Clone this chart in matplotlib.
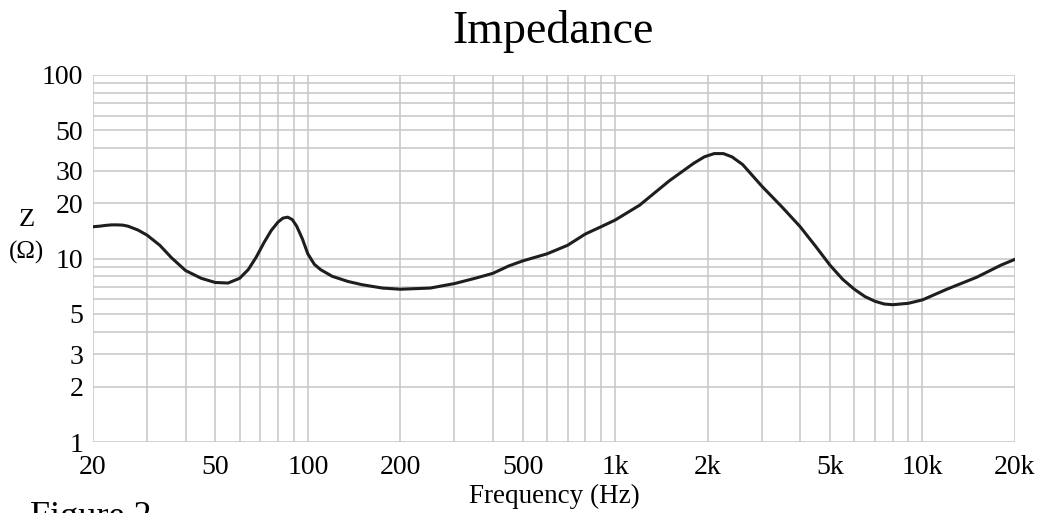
import numpy as np
import matplotlib.pyplot as plt
from matplotlib.ticker import FixedLocator, NullFormatter

plt.rcParams["font.family"] = ["Liberation Serif", "DejaVu Serif"]

# impedance curve
freq = [20, 21, 22, 23, 24, 25, 26, 28, 30, 33, 36, 40, 45, 50, 55, 60, 64,
        68, 72, 76, 80, 83, 86, 89, 92, 96, 100, 105, 110, 120, 135, 150,
        175, 200, 250, 300, 350, 400, 450, 500, 600, 700, 800, 900, 1000,
        1200, 1500, 1800, 1950, 2100, 2250, 2400, 2600, 3000, 3500, 4000,
        4500, 5000, 5500, 6000, 6500, 7000, 7500, 8000, 9000, 10000, 12000,
        15000, 18000, 20000]
z = [14.9, 15.0, 15.15, 15.25, 15.25, 15.2, 15.0, 14.3, 13.4, 11.8, 10.1,
     8.6, 7.8, 7.4, 7.35, 7.8, 8.7, 10.2, 12.2, 14.2, 15.8, 16.6, 16.8,
     16.3, 15.0, 12.8, 10.6, 9.3, 8.7, 8.0, 7.5, 7.2, 6.9, 6.8, 6.9, 7.3,
     7.8, 8.3, 9.1, 9.7, 10.6, 11.8, 13.6, 14.9, 16.2, 19.5, 26.5, 33.0,
     35.8, 37.3, 37.3, 35.8, 32.5, 24.8, 19.0, 14.9, 11.6, 9.2, 7.7, 6.8,
     6.2, 5.85, 5.65, 5.6, 5.7, 5.95, 6.8, 7.9, 9.2, 9.9]

x_ticks = [20, 50, 100, 200, 500, 1000, 2000, 5000, 10000, 20000]
x_labels = ["20", "50", "100", "200", "500", "1k", "2k", "5k", "10k", "20k"]
y_ticks = [1, 2, 3, 5, 10, 20, 30, 50, 100]
y_labels = ["1", "2", "3", "5", "10", "20", "30", "50", "100"]

fig = plt.figure(figsize=(10.4, 5.13), dpi=100)
ax = fig.add_axes([93 / 1040, 1 - 442 / 513, 922 / 1040, 367 / 513])

ax.plot(freq, z, color="#1e1e1e", linewidth=2.2, solid_capstyle="round",
        solid_joinstyle="round")
ax.set_xscale("log")
ax.set_yscale("log")
ax.set_xlim(20, 20000)
ax.set_ylim(1, 100)

xgrid = [m * 10 ** e for e in range(1, 5) for m in range(1, 10)]
xgrid = [v for v in xgrid if 20 <= v <= 20000]
ygrid = [m * 10 ** e for e in range(0, 2) for m in range(1, 10)] + [100]
for v in xgrid:
    ax.axvline(v, color="#c6c6c6", linewidth=1.1, zorder=0)
for v in ygrid:
    ax.axhline(v, color="#c6c6c6", linewidth=1.1, zorder=0)

ax.xaxis.set_major_locator(FixedLocator(x_ticks))
ax.xaxis.set_minor_locator(FixedLocator([]))
ax.set_xticklabels(x_labels)
ax.yaxis.set_major_locator(FixedLocator(y_ticks))
ax.yaxis.set_minor_locator(FixedLocator([]))
ax.yaxis.set_minor_formatter(NullFormatter())
ax.set_yticklabels(y_labels)
ax.tick_params(axis="x", length=0, labelsize=20, pad=9)
ax.tick_params(axis="y", length=0, labelsize=20, pad=7)
for s in ax.spines.values():
    s.set_visible(False)

ax.set_xlabel("Frequency (Hz)", fontsize=19.5, labelpad=3)
fig.text(0.532, 1 - 43 / 513, "Impedance", ha="center", va="baseline", fontsize=33)
fig.text(27 / 1040, 1 - 220 / 513, "Z", ha="center", va="center", fontsize=19)
fig.text(26 / 1040, 1 - 252 / 513, "(Ω)", ha="center", va="center", fontsize=18)
fig.text(30 / 1040, 1 - 526 / 513, "Figure 2", ha="left", va="baseline", fontsize=26)

fig.savefig("out.png", dpi=100)
